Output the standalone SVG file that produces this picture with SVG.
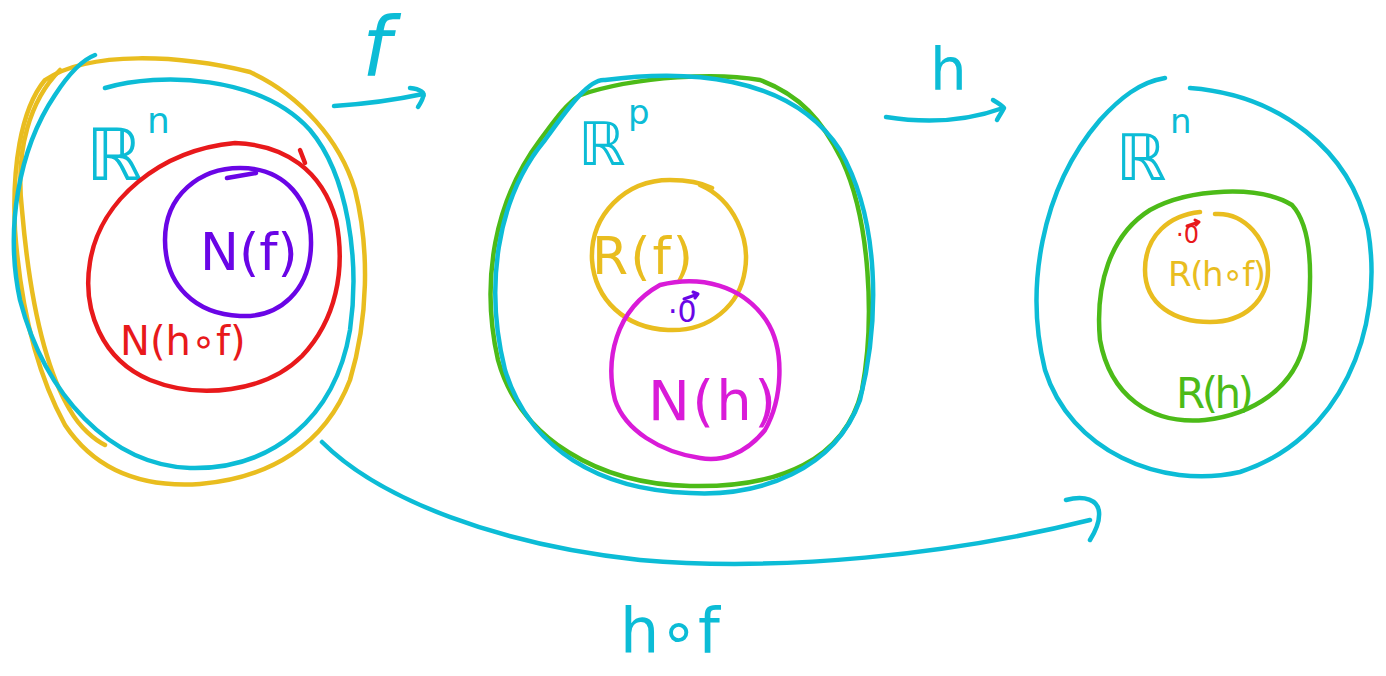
<svg xmlns="http://www.w3.org/2000/svg" width="1386" height="676" viewBox="0 0 1386 676">
<style>
.s{fill:none;stroke-width:4.5;stroke-linecap:round;stroke-linejoin:round}
.v{fill:none;stroke-width:3;stroke-linecap:round;stroke-linejoin:round}
.cy{stroke:#0cbcd6}.ye{stroke:#e9bd1f}.re{stroke:#e8191b}.pu{stroke:#6a05e6}.gr{stroke:#4cbb18}.ma{stroke:#d91bd8}
.t{font-family:"DejaVu Sans",sans-serif}
.tcy{fill:#0cbcd6}.tye{fill:#e9bd1f}.tre{fill:#e8191b}.tpu{fill:#6a05e6}.tgr{fill:#4cbb18}.tma{fill:#d91bd8}
</style>
<rect width="1386" height="676" fill="#ffffff"/>
<g id="left-domain">
<path class="s ye" d="M45,80 C90,50 180,55 250,72 C300,95 340,140 355,190 C370,250 368,320 350,380 C325,445 270,478 200,484 C140,488 95,470 65,425 C35,370 20,300 15,230 C12,170 20,110 45,80 Z"/>
<path class="s ye" d="M60,70 C30,100 15,150 22,210 C28,280 40,360 70,410 C80,428 95,440 105,445"/>
<path class="s cy" d="M105,88 C160,72 260,75 310,130 C348,175 360,260 350,330 C335,420 270,470 190,468 C110,465 45,395 20,300 C5,230 18,150 55,95 C68,75 82,60 95,55"/>
<text class="t tcy" x="86" y="180" font-size="72">ℝ</text>
<text class="t tcy" x="147" y="133" font-size="36">n</text>
<path class="s re" d="M235,143 C285,145 322,170 336,220 C346,270 336,320 302,356 C266,392 200,400 150,380 C102,360 82,310 90,262 C100,200 160,150 235,143 Z"/>
<path class="s re" d="M300,150 L305,163"/>
<text class="t tre" x="120" y="355" font-size="40">N(h∘f)</text>
<path class="s pu" d="M240,168 C285,168 312,200 311,245 C310,290 280,318 240,316 C195,314 165,285 165,240 C165,195 200,168 240,168 Z"/>
<path class="s pu" d="M227,178 L256,173"/>
<text class="t tpu" x="200" y="270" font-size="52">N(f)</text>
</g>
<g id="middle-space">
<path class="s gr" d="M580,95 C640,75 720,73 760,80 C800,95 822,120 842,160 C870,220 875,320 862,390 C845,460 780,488 690,486 C600,484 520,440 498,360 C480,280 495,200 540,140 C555,120 565,105 580,95 Z"/>
<path class="s cy" d="M605,80 C680,70 790,72 840,150 C880,220 880,320 860,400 C835,470 760,497 690,493 C600,490 530,450 505,370 C485,290 495,200 545,140 C570,105 590,78 605,80 Z"/>
<text class="t tcy" x="578" y="165" font-size="60">ℝ</text>
<text class="t tcy" x="628" y="124" font-size="34">p</text>
<path class="s ye" d="M700,185 C735,200 750,240 745,270 C740,305 710,332 668,330 C625,328 595,300 592,260 C590,215 625,180 670,180 C685,180 700,182 712,188"/>
<text class="t tye" x="592" y="274" font-size="52" letter-spacing="2">R(f)</text>
<path class="s ma" d="M660,285 C700,275 742,285 766,320 C786,350 782,400 765,430 C745,455 720,462 700,458 C660,452 625,430 615,400 C605,360 615,310 660,285 Z"/>
<text class="t tpu" x="668" y="322" font-size="30">·0</text>
<path class="v pu" d="M684,299 L698,294 M693,292 L698,294 L695,298"/>
<text class="t tma" x="648" y="420" font-size="56" textLength="128">N(h)</text>
</g>
<g id="right-codomain">
<path class="s cy" d="M1190,88 C1280,95 1350,150 1368,230 C1385,330 1340,440 1240,472 C1160,490 1070,450 1045,370 C1025,290 1040,190 1100,120 C1120,98 1140,82 1165,78"/>
<text class="t tcy" x="1116" y="180" font-size="64">ℝ</text>
<text class="t tcy" x="1170" y="133" font-size="34">n</text>
<path class="s gr" d="M1150,210 C1190,188 1260,185 1292,205 C1315,230 1312,290 1305,340 C1295,390 1250,415 1205,420 C1150,425 1110,395 1100,340 C1095,285 1110,235 1150,210 Z"/>
<text class="t tgr" x="1176" y="408" font-size="42" textLength="78">R(h)</text>
<path class="s ye" d="M1215,214 C1245,212 1268,240 1268,270 C1268,300 1245,322 1210,322 C1175,322 1145,305 1145,270 C1145,235 1170,215 1200,212"/>
<text class="t tre" x="1176" y="243" font-size="24">·0</text>
<path class="v re" d="M1187,226 L1199,222 M1195,220 L1199,222 L1196,225"/>
<text class="t tye" x="1168" y="286" font-size="34" textLength="98">R(h∘f)</text>
</g>
<g id="connectors">
<path class="s cy" d="M334,106 C365,104 395,100 423,94"/>
<path class="s cy" d="M410,88 C420,89 426,93 423,97 C422,101 420,104 418,107"/>
<text class="t tcy" x="362" y="75" font-size="82" font-family="Liberation Serif" font-style="italic">f</text>
<path class="s cy" d="M886,117 C930,124 970,120 1003,108"/>
<path class="s cy" d="M993,100 C998,103 1003,106 1004,108 C1002,112 999,116 997,120"/>
<text class="t tcy" x="930" y="90" font-size="58">h</text>
<path class="s cy" d="M322,442 C380,500 500,545 640,560 C780,572 950,555 1090,520"/>
<path class="s cy" d="M1066,500 C1085,495 1098,500 1099,512 C1100,522 1095,532 1090,540"/>
<text class="t tcy" x="620" y="652" font-size="62">h∘f</text>
</g>
</svg>
